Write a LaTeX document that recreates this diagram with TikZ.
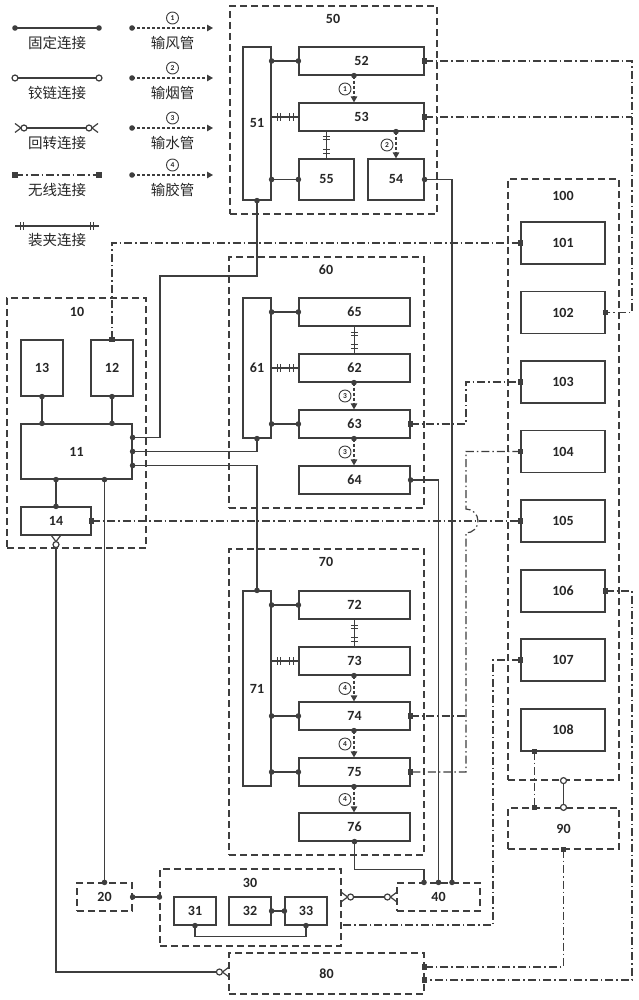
\documentclass[tikz,border=0pt]{standalone}
\usepackage{fontspec}
\setmainfont{Carlito}
\newfontfamily\cjk{Noto Sans CJK SC}
\usetikzlibrary{arrows.meta,calc}
\definecolor{ink}{RGB}{62,62,62}
\tikzset{swivel/.pic={\draw (3pt,0) -- (9pt,4.5pt) (3pt,0) -- (9pt,-4.5pt); \draw[fill=white] (0,0) circle (3pt);}}
\newcommand\fdot[1]{\fill #1 circle (2.8pt);}
\newcommand\hdot[1]{\draw[fill=white] #1 circle (3pt);}
\newcommand\fsq[1]{\fill #1 +(-2.8pt,-2.8pt) rectangle +(2.8pt,2.8pt);}
\newcommand\fixline[2]{\draw #1 -- #2; \fdot{#1} \fdot{#2}}
\newcommand\clampH[1]{\draw[line width=0.8pt] #1 +(-1.6pt,-3.6pt) -- +(-1.6pt,3.6pt) #1 +(1.6pt,-3.6pt) -- +(1.6pt,3.6pt);}
\newcommand\clampV[1]{\draw[line width=0.8pt] #1 +(-3.6pt,-1.6pt) -- +(3.6pt,-1.6pt) #1 +(-3.6pt,1.6pt) -- +(3.6pt,1.6pt);}
\newcommand\duct[4]{\draw[duct] (#1.south -| #3) -- (#2.north -| #3); \fdot{(#1.south -| #3)}
  \node[tag] (t#1) at ($(#1.south -| #3)!0.5!(#2.north -| #3)+(-9,0)$) {#4};}

\begin{document}
\begin{tikzpicture}[x=1pt,y=-1pt,line width=1.2pt,color=ink,
  box/.style={draw,fill=white,inner sep=0pt,minimum height=28pt,text=black!85,font=\bfseries\fontsize{14}{14}\selectfont},
  grp/.style={draw,dash pattern=on 7pt off 4pt,inner sep=0pt,text=black!85,font=\bfseries\fontsize{14}{14}\selectfont},
  lbl/.style={text=black!85,font=\bfseries\fontsize{14}{14}\selectfont},
  cn/.style={text=black!85,font=\cjk\fontsize{14.5}{14.5}\selectfont},
  wl/.style={dash pattern=on 8pt off 3pt on 1.5pt off 3pt},
  duct/.style={dash pattern=on 3pt off 2pt,-{Triangle[length=6pt,width=6.5pt]}},
  tag/.style={circle,draw,line width=0.9pt,inner sep=0pt,minimum size=12pt,text=black!85,font=\bfseries\fontsize{7.5}{7.5}\selectfont}]
\useasboundingbox (0,0) rectangle (638,1000);

\coordinate (la1) at (15,28); \coordinate (lb1) at (99,28);
\coordinate (la2) at (15,78); \coordinate (lb2) at (99,78);
\coordinate (la3) at (24,128); \coordinate (lb3) at (89,128);
\coordinate (la4) at (15,175); \coordinate (lb4) at (99,175);
\coordinate (la5) at (15,226); \coordinate (lb5) at (99,226);
\fixline{(la1)}{(lb1)}
\draw (la2) -- (lb2); \hdot{(la2)} \hdot{(lb2)}
\draw (la3) -- (lb3); \pic[rotate=180] at (la3) {swivel}; \pic at (lb3) {swivel};
\draw[wl] (la4) -- (lb4); \fsq{(la4)} \fsq{(lb4)}
\draw (la5) -- (lb5); \clampH{($(la5)+(7,0)$)} \clampH{($(lb5)+(-7,0)$)}
\foreach \i/\y/\t in {1/43/固定连接,2/93/铰链连接,3/143/回转连接,4/190/无线连接,5/240/装夹连接}
  \node[cn] (lt\i) at (57,\y) {\t};
\foreach \i/\y/\t in {1/28/输风管,2/78/输烟管,3/128/输水管,4/175/输胶管}{
  \coordinate (ka\i) at (132,\y); \coordinate (kb\i) at (213,\y);
  \draw[duct] (ka\i) -- (kb\i); \fdot{(ka\i)}
  \node[tag] (kt\i) at ($(ka\i)!0.5!(kb\i)+(0,-10)$) {\i};
  \node[cn] (kl\i) at ($(ka\i)!0.5!(kb\i)+(0,15)$) {\t};
}

\draw (333.5,110) node[grp,minimum width=207pt,minimum height=208pt] (g50) {};
\draw (76.5,423) node[grp,minimum width=139pt,minimum height=250pt] (g10) {};
\draw (326.5,382.5) node[grp,minimum width=195pt,minimum height=251pt] (g60) {};
\draw (326.5,702) node[grp,minimum width=195pt,minimum height=306pt] (g70) {};
\draw (563.5,479.5) node[grp,minimum width=111pt,minimum height=601pt] (g100) {};
\draw (104.5,897) node[grp,minimum width=55pt,minimum height=28pt] (g20) {20};
\draw (250.5,907.5) node[grp,minimum width=181pt,minimum height=77pt] (g30) {};
\draw (438.5,897) node[grp,minimum width=83pt,minimum height=28pt] (g40) {40};
\draw (326.5,973.5) node[grp,minimum width=195pt,minimum height=41pt] (g80) {80};
\draw (563.5,828.5) node[grp,minimum width=111pt,minimum height=41pt] (g90) {90};
\node[lbl] (l50) at (333,19) {50};
\node[lbl] (l10) at (77,312) {10};
\node[lbl] (l60) at (326,270) {60};
\node[lbl] (l70) at (326,562) {70};
\node[lbl] (l100) at (563,196) {100};
\node[lbl] (l30) at (250,883) {30};

\draw (257,123.5) node[box,minimum width=28pt,minimum height=153pt] (n51) {51};
\draw (361.5,61) node[box,minimum width=125pt] (n52) {52};
\draw (361.5,117) node[box,minimum width=125pt] (n53) {53};
\draw (326.5,179.5) node[box,minimum width=55pt,minimum height=41pt] (n55) {55};
\draw (396,179.5) node[box,minimum width=56pt,minimum height=41pt] (n54) {54};
\draw (42,368) node[box,minimum width=42pt,minimum height=56pt] (n13) {13};
\draw (112,368) node[box,minimum width=42pt,minimum height=56pt] (n12) {12};
\draw (76.5,451.5) node[box,minimum width=111pt,minimum height=55pt] (n11) {11};
\draw (56,521) node[box,minimum width=70pt] (n14) {14};
\draw (257,368) node[box,minimum width=28pt,minimum height=140pt] (n61) {61};
\foreach \n/\y in {65/312,62/368,63/424,64/480}
  \draw (354.5,\y) node[box,minimum width=111pt] (n\n) {\n};
\draw (257,688.5) node[box,minimum width=28pt,minimum height=195pt] (n71) {71};
\foreach \n/\y in {72/605,73/661,74/716,75/772,76/827}
  \draw (354.5,\y) node[box,minimum width=111pt] (n\n) {\n};
\foreach \n/\y in {101/243,102/312.5,103/382,104/451.5,105/521,106/591,107/660,108/730}
  \draw (563,\y) node[box,minimum width=84pt,minimum height=42pt] (n\n) {\n};
\foreach \n/\x in {31/195,32/250,33/306}
  \draw (\x,911) node[box,minimum width=42pt] (n\n) {\n};

\coordinate (xa) at (354,0); \coordinate (xb) at (396,0);
\coordinate (xc) at (160,0); \coordinate (xd) at (466,0);
\coordinate (xe) at (632,0); \coordinate (xf) at (493,0);
\coordinate (ya) at (0,276);

\fixline{(n51.east |- n52)}{(n52.west)}
\fixline{(n51.east |- n55)}{(n55.west)}
\fixline{(n13.south)}{(n13.south |- n11.north)}
\fixline{(n12.south)}{(n12.south |- n11.north)}
\fixline{(n14.north |- n11.south)}{(n14.north)}
\fixline{(n61.east |- n65)}{(n65.west)}
\fixline{(n61.east |- n63)}{(n63.west)}
\foreach \n in {72,74,75} {\fixline{(n71.east |- n\n)}{(n\n.west)}}
\fixline{(g20.east)}{(g30.west |- g20.east)}
\fixline{(n32.east)}{(n33.west)}
\fixline{(g20.north |- n11.south)}{(g20.north)}
\draw ($(n11.east)+(0,-14)$) -| (xc |- ya) -| (n51.south); \fdot{($(n11.east)+(0,-14)$)} \fdot{(n51.south)}
\draw (n11.east) -| (n61.south); \fdot{(n11.east)} \fdot{(n61.south)}
\draw ($(n11.east)+(0,14)$) -| (n71.north); \fdot{($(n11.east)+(0,14)$)} \fdot{(n71.north)}
\draw (n54.east) -| ($(g40.north)+(13.5,0)$); \fdot{(n54.east)} \fdot{($(g40.north)+(13.5,0)$)}
\draw (n64.east) -| (g40.north); \fdot{(n64.east)} \fdot{(g40.north)}
\draw (n76.south) -- ++(0,28) -| ($(g40.north)+(-14.5,0)$); \fdot{(n76.south)} \fdot{($(g40.north)+(-14.5,0)$)}
\draw (n31.south) -- ++(0,11) -| (n33.south); \fdot{(n31.south)} \fdot{(n33.south)}

\draw (n51.east |- n53) -- (n53.west); \clampH{($(n51.east |- n53)+(7,0)$)} \clampH{($(n53.west)+(-7,0)$)}
\draw (n55.north) -- (n55.north |- n53.south); \clampV{($(n55.north |- n53.south)+(0,6)$)} \clampV{($(n55.north)+(0,-7)$)}
\draw (n61.east |- n62) -- (n62.west); \clampH{($(n61.east |- n62)+(7,0)$)} \clampH{($(n62.west)+(-7,0)$)}
\draw (n65.south) -- (n62.north); \clampV{($(n65.south)+(0,7)$)} \clampV{($(n62.north)+(0,-7)$)}
\draw (n71.east |- n73) -- (n73.west); \clampH{($(n71.east |- n73)+(7,0)$)} \clampH{($(n73.west)+(-7,0)$)}
\draw (n72.south) -- (n73.north); \clampV{($(n72.south)+(0,7)$)} \clampV{($(n73.north)+(0,-7)$)}

\duct{n52}{n53}{xa}{1}
\duct{n53}{n54}{xb}{2}
\duct{n62}{n63}{xa}{3}
\duct{n63}{n64}{xa}{3}
\duct{n73}{n74}{xa}{4}
\duct{n74}{n75}{xa}{4}
\duct{n75}{n76}{xa}{4}

\coordinate (j14) at ($(n14.south)+(0,9)$);
\coordinate (j80) at ($(g80.west)+(-9,-1.5)$);
\coordinate (j30) at ($(g30.east |- g40.west)+(9,0)$);
\coordinate (j40) at ($(g40.west)+(-9,0)$);
\draw (j14) |- (j80); \pic[rotate=90] at (j14) {swivel}; \pic at (j80) {swivel};
\draw (j30) -- (j40); \pic[rotate=180] at (j30) {swivel}; \pic at (j40) {swivel};
\draw (g100.south) -- (g90.north); \hdot{(g100.south)} \hdot{(g90.north)}

\coordinate (w108) at ($(n108.south west)+(14,0)$);
\coordinate (w80a) at ($(g80.east)+(0,-6.5)$);
\coordinate (w80b) at ($(g80.east)+(0,6.5)$);
\coordinate (w30) at ($(g30.east)+(0,17.5)$);
\draw[wl] (n12.north) |- (n101.west);
\draw[wl] (n52.east) -- (n52.east -| xe) |- (n102.east);
\draw[wl] (n53.east) -- (n53.east -| xe);
\draw[wl] (n63.east) -- (n63.east -| xd) |- (n103.west);
\draw[wl] (n104.west) -- (n104.west -| xd) -- ($(xd |- n105)+(0,-12)$)
  arc[start angle=90,end angle=-90,radius=12pt] -- (n75.east -| xd) -- (n75.east);
\draw[wl] (n74.east) -- (n74.east -| xd);
\draw[wl] (n14.east) -- (n105.west);
\draw[wl] (n106.east) -- (n106.east -| xe) |- (w80b);
\draw[wl] (g90.south) |- (w80a);
\draw[wl] (w108) -- (w108 |- g90.north);
\draw[wl] (n107.west) -- (n107.west -| xf) |- (w30);
\foreach \p in {n12.north,n101.west,n52.east,n53.east,n102.east,n63.east,n103.west,n104.west,
  n74.east,n75.east,n14.east,n105.west,n106.east,w80a,w80b,g90.south,w108,n107.west}
  {\fsq{(\p)}}
\fsq{(w108 |- g90.north)}
\end{tikzpicture}
\end{document}
